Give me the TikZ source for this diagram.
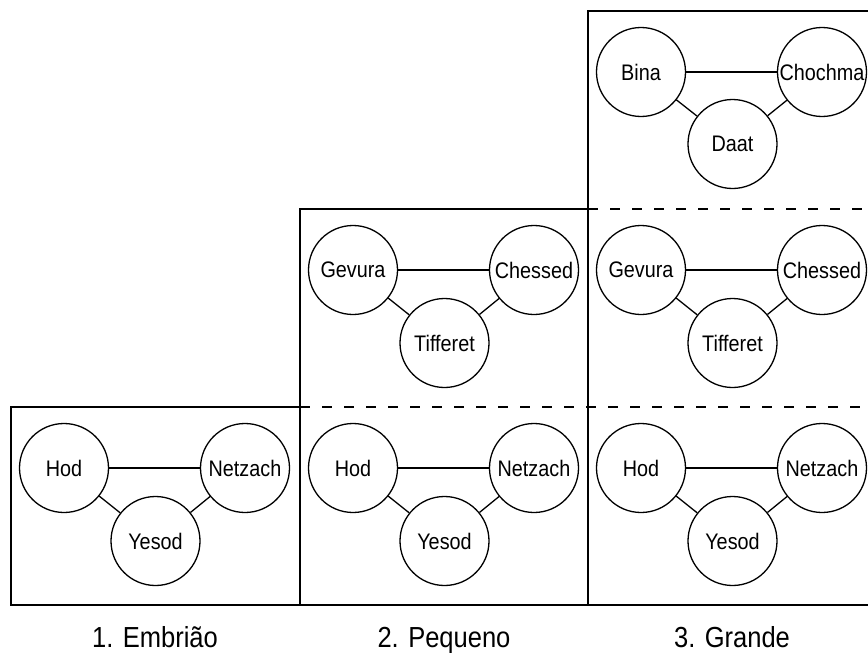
\documentclass[tikz,border=0pt]{standalone}
\usepackage{fontspec}
\setmainfont{Liberation Sans}[FakeStretch=0.88]
\begin{document}
\begin{tikzpicture}[x=1pt,y=-1pt,
  sef/.style={circle,draw,line width=1.3pt,minimum size=89pt,inner sep=0pt,
              font=\fontsize{22.5}{24}\selectfont},
  link/.style={line width=1.3pt},
  frame/.style={line width=2pt},
  sepline/.style={line width=2pt,dash pattern=on 10pt off 12pt},
  caption/.style={anchor=base,font=\fontsize{29}{32}\selectfont}]
\useasboundingbox (0,0) rectangle (868,653);
\clip (0,0) rectangle (868,653);

% frames
\draw[frame] (11,407) rectangle (300,605);
\draw[frame] (300,209) rectangle (588,605);
\draw[frame] (588,11) rectangle (872,605);
\coordinate (d1a) at (588,209);
\coordinate (d1b) at (868,209);
\coordinate (d2a) at (300,407);
\coordinate (d2b) at (868,407);
\draw[sepline] (d1a) -- (d1b);
\draw[sepline] (d2a) -- (d2b);

% row 1: Hod, Netzach, Yesod
\foreach \c/\l in {1/11,2/300,3/588} {
  \node[sef] (hod\c) at (\l+53,468) {Hod};
  \node[sef] (netzach\c) at (\l+234,468) {Netzach};
  \node[sef] (yesod\c) at (\l+144.5,541) {Yesod};
  \draw[link] (hod\c) -- (netzach\c);
  \draw[link] (hod\c) -- (yesod\c);
  \draw[link] (yesod\c) -- (netzach\c);
}

% row 2: Gevura, Chessed, Tifferet
\foreach \c/\l in {2/300,3/588} {
  \node[sef] (gevura\c) at (\l+53,270) {Gevura};
  \node[sef] (chessed\c) at (\l+234,270) {Chessed};
  \node[sef] (tifferet\c) at (\l+144.5,343) {Tifferet};
  \draw[link] (gevura\c) -- (chessed\c);
  \draw[link] (gevura\c) -- (tifferet\c);
  \draw[link] (tifferet\c) -- (chessed\c);
}

% row 3: Bina, Chochma, Daat
\node[sef] (bina) at (641,72) {Bina};
\node[sef] (chochma) at (822,72) {Chochma};
\node[sef] (daat) at (732.5,144) {Daat};
\draw[link] (bina) -- (chochma);
\draw[link] (bina) -- (daat);
\draw[link] (daat) -- (chochma);

% captions
\node[caption] (cap1) at (155,647) {1. Embrião};
\node[caption] (cap2) at (444,647) {2. Pequeno};
\node[caption] (cap3) at (732,647) {3. Grande};
\end{tikzpicture}
\end{document}
